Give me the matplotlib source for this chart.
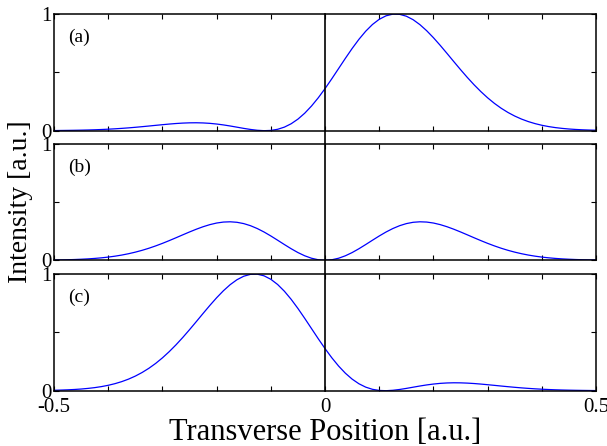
import matplotlib
matplotlib.use("Agg")
import matplotlib.pyplot as plt
import matplotlib.transforms as mtransforms
from matplotlib.lines import Line2D

plt.rcParams['font.family'] = ['Liberation Serif', 'DejaVu Serif']
plt.rcParams['axes.unicode_minus'] = False

# transverse position samples [a.u.]
pos = [-0.5, -0.4875, -0.475, -0.4625, -0.45, -0.4375, -0.425, -0.4125, -0.4, -0.3875,
       -0.375, -0.3625, -0.35, -0.3375, -0.325, -0.3125, -0.3, -0.2875, -0.275, -0.2625,
       -0.25, -0.2375, -0.225, -0.2125, -0.2, -0.1875, -0.175, -0.1625, -0.15, -0.1375,
       -0.125, -0.1125, -0.1, -0.0875, -0.075, -0.0625, -0.05, -0.0375, -0.025, -0.0125,
       0.0, 0.0125, 0.025, 0.0375, 0.05, 0.0625, 0.075, 0.0875, 0.1, 0.1125,
       0.125, 0.1375, 0.15, 0.1625, 0.175, 0.1875, 0.2, 0.2125, 0.225, 0.2375,
       0.25, 0.2625, 0.275, 0.2875, 0.3, 0.3125, 0.325, 0.3375, 0.35, 0.3625,
       0.375, 0.3875, 0.4, 0.4125, 0.425, 0.4375, 0.45, 0.4625, 0.475, 0.4875,
       0.5]

# (a) intensity
int_a = [0.0010, 0.0018, 0.0025, 0.0034, 0.0045, 0.0059, 0.0077, 0.0100, 0.0128, 0.0160,
         0.0198, 0.0241, 0.0290, 0.0343, 0.0399, 0.0457, 0.0513, 0.0567, 0.0614, 0.0650,
         0.0672, 0.0678, 0.0663, 0.0628, 0.0570, 0.0494, 0.0402, 0.0300, 0.0197, 0.0105,
         0.0035, 0.0000, 0.0022, 0.0118, 0.0305, 0.0594, 0.0991, 0.1498, 0.2112, 0.2820,
         0.3608, 0.4452, 0.5326, 0.6201, 0.7046, 0.7830, 0.8524, 0.9103, 0.9548, 0.9845,
         0.9987, 0.9973, 0.9811, 0.9511, 0.9089, 0.8567, 0.7967, 0.7311, 0.6622, 0.5922,
         0.5230, 0.4561, 0.3930, 0.3346, 0.2814, 0.2338, 0.1921, 0.1560, 0.1252, 0.0993,
         0.0779, 0.0604, 0.0463, 0.0351, 0.0263, 0.0196, 0.0143, 0.0104, 0.0075, 0.0053,
         0.0037]

# (b) symmetric two-lobe profile
int_b = [0.0024, 0.0034, 0.0047, 0.0065, 0.0089, 0.0120, 0.0160, 0.0211, 0.0274, 0.0353,
         0.0448, 0.0563, 0.0698, 0.0854, 0.1032, 0.1232, 0.1450, 0.1685, 0.1930, 0.2181,
         0.2428, 0.2663, 0.2876, 0.3056, 0.3193, 0.3276, 0.3299, 0.3256, 0.3144, 0.2964,
         0.2720, 0.2423, 0.2084, 0.1720, 0.1349, 0.0990, 0.0662, 0.0386, 0.0176, 0.0045,
         0.0000, 0.0045, 0.0176, 0.0386, 0.0662, 0.0990, 0.1349, 0.1720, 0.2084, 0.2423,
         0.2720, 0.2964, 0.3144, 0.3256, 0.3299, 0.3276, 0.3193, 0.3056, 0.2876, 0.2663,
         0.2428, 0.2181, 0.1930, 0.1685, 0.1450, 0.1232, 0.1032, 0.0854, 0.0698, 0.0563,
         0.0448, 0.0353, 0.0274, 0.0211, 0.0160, 0.0120, 0.0089, 0.0065, 0.0047, 0.0034,
         0.0024]

# (c) mirror image of (a)
int_c = [0.0037, 0.0053, 0.0075, 0.0104, 0.0143, 0.0196, 0.0263, 0.0351, 0.0463, 0.0604,
         0.0779, 0.0993, 0.1252, 0.1560, 0.1921, 0.2338, 0.2814, 0.3346, 0.3930, 0.4561,
         0.5230, 0.5922, 0.6622, 0.7311, 0.7967, 0.8567, 0.9089, 0.9511, 0.9811, 0.9973,
         0.9987, 0.9845, 0.9548, 0.9103, 0.8524, 0.7830, 0.7046, 0.6201, 0.5326, 0.4452,
         0.3608, 0.2820, 0.2112, 0.1498, 0.0991, 0.0594, 0.0305, 0.0118, 0.0022, 0.0000,
         0.0035, 0.0105, 0.0197, 0.0300, 0.0402, 0.0494, 0.0570, 0.0628, 0.0663, 0.0678,
         0.0672, 0.0650, 0.0614, 0.0567, 0.0513, 0.0457, 0.0399, 0.0343, 0.0290, 0.0241,
         0.0198, 0.0160, 0.0128, 0.0100, 0.0077, 0.0059, 0.0045, 0.0034, 0.0025, 0.0018,
         0.0010]

panels = [("(a)", int_a), ("(b)", int_b), ("(c)", int_c)]

xticks = [-0.5, -0.4, -0.3, -0.2, -0.1, 0.0, 0.1, 0.2, 0.3, 0.4, 0.5]
xticklabels = ["-0.5", "", "", "", "", "0", "", "", "", "", "0.5"]
yticks = [0, 0.5, 1]
yticklabels = ["0", "", "1"]

fig = plt.figure(figsize=(6.07, 4.46), dpi=100)
left, width = 0.089, 0.893
bottoms = [0.707, 0.4164, 0.124]
height = 0.2616

axes = []
for (lab, ys), b in zip(panels, bottoms):
    ax = fig.add_axes([left, b, width, height])
    ax.plot(pos, ys, color='#0000ff', lw=0.9)
    ax.set_xlim(-0.5, 0.5)
    ax.set_ylim(0, 1)
    ax.set_xticks(xticks)
    ax.set_yticks(yticks)
    ax.set_yticklabels(yticklabels)
    if b == bottoms[-1]:
        ax.set_xticklabels(xticklabels)
    else:
        ax.set_xticklabels([])
    ax.tick_params(direction='in', length=3.5, width=0.8, top=True, right=True,
                   labelsize=15)
    ax.tick_params(axis='y', pad=2)
    ax.tick_params(axis='x', pad=5)
    for s in ax.spines.values():
        s.set_linewidth(1.1)
    ax.text(0.026, 0.8, lab, transform=ax.transAxes, fontsize=14,
            va='center', ha='left')
    axes.append(ax)

# vertical line at x = 0 running through all three panels
trans = mtransforms.blended_transform_factory(axes[-1].transData, fig.transFigure)
fig.add_artist(Line2D([0, 0], [bottoms[-1], bottoms[0] + height], transform=trans,
                      color='black', lw=1.2))

axes[1].set_ylabel("Intensity [a.u.]", fontsize=20, labelpad=6)
axes[-1].set_xlabel("Transverse Position [a.u.]", fontsize=22, labelpad=1)

fig.savefig("out.png", dpi=100)
